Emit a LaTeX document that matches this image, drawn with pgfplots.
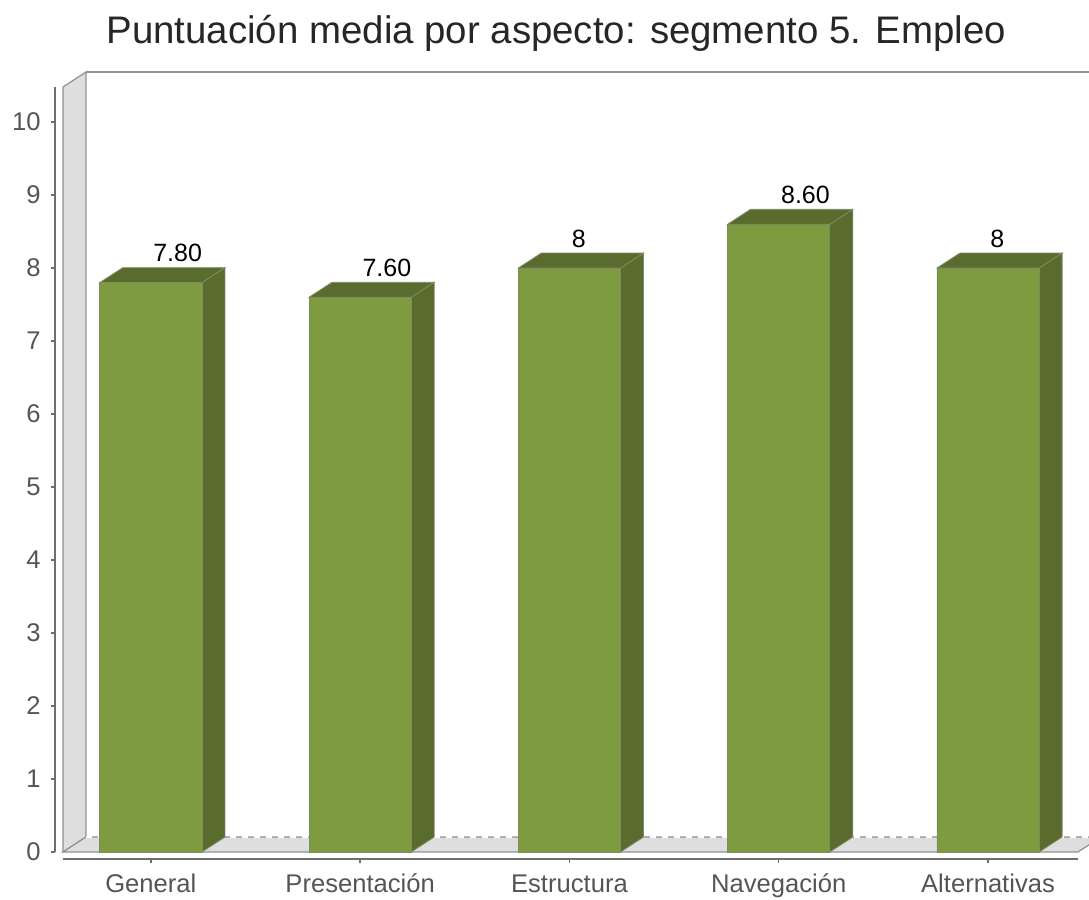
\documentclass[border=0pt]{standalone}
\usepackage{pgfplots}
\usepackage{pgfplotstable}
\pgfplotsset{compat=1.18}
\usepackage{fontspec}
\setmainfont{Liberation Sans}

\definecolor{barfront}{RGB}{127,155,63}
\definecolor{barside}{RGB}{90,108,45}
\definecolor{baredge}{RGB}{125,138,100}
\definecolor{wallfill}{RGB}{222,222,222}
\definecolor{walledge}{RGB}{145,145,145}
\definecolor{axisgray}{RGB}{110,110,110}
\definecolor{labelgray}{RGB}{85,85,85}

% mean score per aspect
\pgfplotstableread{
x y label
0 7.8 7.80
1 7.6 7.60
2 8   8
3 8.6 8.60
4 8   8
}\scores

\begin{document}
\begin{tikzpicture}
\begin{axis}[
  scale only axis,
  width=511.5pt, height=386pt,
  xmin=-0.458, xmax=4.43,
  ymin=-0.096, ymax=10.48,
  clip=false,
  axis x line*=bottom, axis y line*=left,
  x axis line style={-, shorten <=4pt, draw=axisgray, line width=0.8pt},
  y axis line style={-, shorten <=3.5pt, draw=axisgray, line width=0.8pt},
  xtick={0,...,4},
  xticklabels={General,Presentación,Estructura,Navegación,Alternativas},
  ytick={0,...,10},
  /pgf/number format/assume math mode=true,
  tick align=outside,
  major tick length=2pt,
  tick style={draw=axisgray, line width=0.7pt},
  xticklabel style={font=\fontsize{12.8}{15}\selectfont, text=labelgray, anchor=base, yshift=-15pt},
  yticklabel style={font=\fontsize{12.8}{15}\selectfont, text=labelgray, anchor=east, inner sep=0pt, xshift=-5pt},
  title={Puntuación media por aspecto: segmento 5. Empleo},
  title style={at={(0.49,1)}, anchor=base, yshift=15.5pt, font=\fontsize{19.2}{23}\selectfont, text=black!85},
]
% left wall and floor
\addplot[fill=wallfill, draw=walledge, line width=0.6pt] coordinates {(-0.42,0) (-0.31,0.205) (-0.31,10.685) (-0.42,10.48)} -- cycle;
\addplot[fill=wallfill, draw=walledge, line width=0.6pt] coordinates {(-0.42,0) (-0.31,0.205) (4.54,0.205) (4.43,0)} -- cycle;
\addplot[draw=white, line width=0.6pt, dashed] coordinates {(-0.31,0.205) (4.54,0.205)};
\addplot[draw=walledge, line width=0.6pt] coordinates {(-0.31,10.685) (4.54,10.685)};

% bar sides
\addplot[fill=barside, draw=baredge, line width=0.4pt] coordinates {(0.244,0) (0.354,0.205) (0.354,8.005) (0.244,7.8)} -- cycle;
\addplot[fill=barside, draw=baredge, line width=0.4pt] coordinates {(1.244,0) (1.354,0.205) (1.354,7.805) (1.244,7.6)} -- cycle;
\addplot[fill=barside, draw=baredge, line width=0.4pt] coordinates {(2.244,0) (2.354,0.205) (2.354,8.205) (2.244,8)} -- cycle;
\addplot[fill=barside, draw=baredge, line width=0.4pt] coordinates {(3.244,0) (3.354,0.205) (3.354,8.805) (3.244,8.6)} -- cycle;
\addplot[fill=barside, draw=baredge, line width=0.4pt] coordinates {(4.244,0) (4.354,0.205) (4.354,8.205) (4.244,8)} -- cycle;
% bar tops
\addplot[fill=barside, draw=baredge, line width=0.4pt] coordinates {(-0.244,7.8) (-0.134,8.005) (0.354,8.005) (0.244,7.8)} -- cycle;
\addplot[fill=barside, draw=baredge, line width=0.4pt] coordinates {(0.756,7.6) (0.866,7.805) (1.354,7.805) (1.244,7.6)} -- cycle;
\addplot[fill=barside, draw=baredge, line width=0.4pt] coordinates {(1.756,8) (1.866,8.205) (2.354,8.205) (2.244,8)} -- cycle;
\addplot[fill=barside, draw=baredge, line width=0.4pt] coordinates {(2.756,8.6) (2.866,8.805) (3.354,8.805) (3.244,8.6)} -- cycle;
\addplot[fill=barside, draw=baredge, line width=0.4pt] coordinates {(3.756,8) (3.866,8.205) (4.354,8.205) (4.244,8)} -- cycle;

% bar fronts with value labels
\addplot[ybar, bar width=0.488, fill=barfront, draw=baredge, line width=0.4pt,
  point meta=explicit symbolic, nodes near coords,
  every node near coord/.append style={anchor=base west, inner sep=0pt, xshift=1pt, yshift=10.5pt,
    font=\fontsize{12.5}{14}\selectfont, text=black}]
  table[x=x, y=y, meta=label] {\scores};
\end{axis}
\pgfresetboundingbox
\path[use as bounding box] (current axis.south west) ++(-27.5pt,-20.5pt) rectangle ++(544.5pt,450pt);
\end{tikzpicture}
\end{document}
